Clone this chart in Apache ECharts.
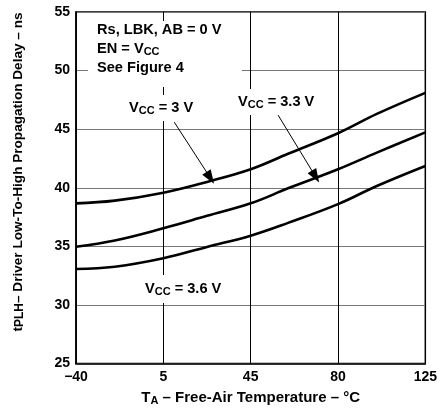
<!DOCTYPE html>
<html>
<head>
<meta charset="utf-8">
<script src="https://cdn.jsdelivr.net/npm/echarts@6/dist/echarts.min.js"></script>
<style>html,body{margin:0;padding:0;background:#fff}#c{width:440px;height:414px}</style>
</head>
<body>
<div id="c"></div>
<script>
// Tick temperatures (evenly spaced on the chart) and their labels
const tickTemps = [-40, 5, 45, 80, 125];
const tickLabels = ['\u221240', '5', '45', '80', '125'];
// Sample temperatures (°C) and delays (ns)
const temps = [-40, -20, 5, 25, 45, 60, 80, 100, 125];
const vcc30 = [38.67, 38.9, 39.58, 40.5, 41.58, 42.9, 44.65, 46.3, 48.1];
const vcc33 = [34.97, 35.5, 36.54, 37.6, 38.67, 39.95, 41.58, 43.0, 44.73];
const vcc36 = [33.07, 33.26, 33.98, 34.95, 35.91, 37.0, 38.6, 40.15, 41.86];
// Arrow annotations: [startTemp, startNs, endTemp, endNs]
const arrow30 = [10, 45.6, 26.5, 40.85];
const arrow33 = [56, 46.2, 71, 40.95];

function toPos(t) {
  for (let i = 0; i < tickTemps.length - 1; i++) {
    const a = tickTemps[i], b = tickTemps[i + 1];
    if (t <= b || i === tickTemps.length - 2) return i + (t - a) / (b - a);
  }
}
function series(vals) { return temps.map((t, i) => [toPos(t), vals[i]]); }
function arrowLine(a) {
  return [[{ coord: [toPos(a[0]), a[1]] }, { coord: [toPos(a[2]), a[3]] }]];
}

const FONT = 'Liberation Sans, Arial, Helvetica, sans-serif';
const chart = echarts.init(document.getElementById('c'), null, { renderer: 'canvas' });

const subRich = {
  a: { fontSize: 14.6, fontWeight: 'bold', fontFamily: FONT, color: '#000' },
  s: { fontSize: 11, fontWeight: 'bold', fontFamily: FONT, color: '#000', padding: [6, 0, 0, 0] }
};
function label(x, y, str, pad) {
  return {
    type: 'text', x: x, y: y, z: 100,
    style: {
      text: str, rich: subRich, fill: '#000',
      font: 'bold 14.6px ' + FONT,
      verticalAlign: 'middle', align: 'left',
      backgroundColor: pad ? '#fff' : null, padding: pad || 0
    }
  };
}

const lineStyle = { color: '#000', width: 2.6 };
const mkArrow = (a) => ({
  silent: true, symbol: ['none', 'triangle'], symbolSize: [10, 14],
  lineStyle: { color: '#000', width: 1, type: 'solid' },
  itemStyle: { color: '#000' },
  label: { show: false }, emphasis: { disabled: true },
  data: arrowLine(a)
});

chart.setOption({
  animation: false,
  grid: { left: 76, top: 12, right: 10, bottom: 50.5, show: true, borderColor: '#000', borderWidth: 1.5, backgroundColor: 'transparent' },
  xAxis: {
    type: 'value', min: 0, max: 4, interval: 1,
    name: '{a|T}{s|A}{a| \u2013 Free-Air Temperature \u2013 \u00b0C}',
    nameLocation: 'middle', nameGap: 26,
    nameTextStyle: { rich: {
      a: { fontSize: 15, fontWeight: 'bold', fontFamily: FONT, color: '#000' },
      s: { fontSize: 11, fontWeight: 'bold', fontFamily: FONT, color: '#000', padding: [6, 0, 0, 0] } } },
    axisLine: { show: true, lineStyle: { color: '#000', width: 1.5 } },
    axisTick: { show: false },
    axisLabel: { formatter: v => tickLabels[Math.round(v)], color: '#000', fontSize: 14, fontWeight: 'bold', fontFamily: FONT, margin: 7 },
    splitLine: { show: true, lineStyle: { color: '#000', width: 1 } }
  },
  yAxis: {
    type: 'value', min: 25, max: 55, interval: 5,
    axisLine: { show: true, lineStyle: { color: '#000', width: 1.5 } },
    axisTick: { show: false },
    axisLabel: { color: '#000', fontSize: 14, fontWeight: 'bold', fontFamily: FONT, margin: 6 },
    splitLine: { show: true, lineStyle: { color: '#777', width: 1 } }
  },
  series: [
    { name: 'VCC = 3 V', type: 'line', data: series(vcc30), smooth: 0.4, showSymbol: false, lineStyle: lineStyle, markLine: mkArrow(arrow30) },
    { name: 'VCC = 3.3 V', type: 'line', data: series(vcc33), smooth: 0.4, showSymbol: false, lineStyle: lineStyle, markLine: mkArrow(arrow33) },
    { name: 'VCC = 3.6 V', type: 'line', data: series(vcc36), smooth: 0.4, showSymbol: false, lineStyle: lineStyle }
  ],
  graphic: [
    { type: 'rect', z: 99, shape: { x: 88, y: 21, width: 154, height: 66 }, style: { fill: '#fff' } },
    {
      type: 'text', x: 18, y: 172, rotation: Math.PI / 2, z: 100,
      style: {
        text: '{a|t}{s|PLH}{a|\u2013 Driver Low-To-High Propagation Delay \u2013 ns}',
        align: 'center', verticalAlign: 'middle', fill: '#000',
        rich: {
          a: { fontSize: 13.6, fontWeight: 'bold', fontFamily: FONT, color: '#000' },
          s: { fontSize: 12, fontWeight: 'bold', fontFamily: FONT, color: '#000', padding: [4, 0, 0, 0] }
        }
      }
    },
    label(97, 30, '{a|Rs, LBK, AB = 0 V}', null),
    label(97, 49, '{a|EN = V}{s|CC}', null),
    label(97, 68, '{a|See Figure 4}', null),
    label(126, 108, '{a|V}{s|CC}{a| = 3 V}', [4, 3, 5, 3]),
    label(235, 102, '{a|V}{s|CC}{a| = 3.3 V}', [4, 3, 5, 3]),
    label(142, 289, '{a|V}{s|CC}{a| = 3.6 V}', [5, 3, 6, 3])
  ]
});
</script>
</body>
</html>
